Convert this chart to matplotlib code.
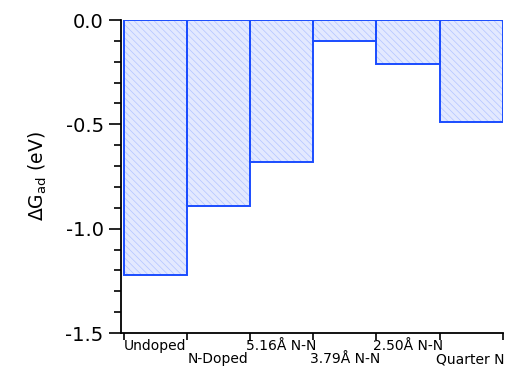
import matplotlib
matplotlib.use("Agg")
import matplotlib.pyplot as plt
import numpy as np
from matplotlib.ticker import MultipleLocator

categories = ["Undoped", "N-Doped", "5.16Å N-N", "3.79Å N-N", "2.50Å N-N", "Quarter N"]
values = [-1.22, -0.89, -0.68, -0.10, -0.21, -0.49]

plt.rcParams['hatch.linewidth'] = 0.5
fig = plt.figure(figsize=(5.05, 3.71), dpi=100)
ax = fig.add_axes([0.2396, 0.1024, 0.7564, 0.8436])

x = np.arange(len(categories)) + 0.5
edge = "#1a4cff"
ax.bar(x, values, width=1.0, color="#e3e9ff", edgecolor="#b3c4ff", hatch="\\\\\\\\\\", linewidth=0)
ax.bar(x, values, width=1.0, fill=False, edgecolor=edge, linewidth=1.4)

ax.set_ylim(-1.5, 0)
ax.set_xlim(-0.04, 6.0)
ax.yaxis.set_major_locator(MultipleLocator(0.5))
ax.yaxis.set_minor_locator(MultipleLocator(0.1))
ax.yaxis.set_major_formatter(matplotlib.ticker.FormatStrFormatter('%.1f'))
ax.tick_params(axis='y', which='major', length=9, width=1.2, labelsize=14, direction='out')
ax.tick_params(axis='y', which='minor', length=5, width=1.2)

ax.set_xticks(np.arange(0, 7))
ax.set_xticklabels([])
ax.tick_params(axis='x', which='major', length=5, width=1.2, direction='out')
for i, c in enumerate(categories):
    yoff = -0.020 if i % 2 == 0 else -0.062
    if i == len(categories) - 1:
        ax.text(6.02, yoff, c, transform=ax.get_xaxis_transform(), ha='right', va='top', fontsize=10, clip_on=False)
    else:
        ax.text(x[i], yoff, c, transform=ax.get_xaxis_transform(), ha='center', va='top', fontsize=10, clip_on=False)

for s in ['top', 'right']:
    ax.spines[s].set_visible(False)
ax.spines['left'].set_linewidth(1.3)
ax.spines['bottom'].set_linewidth(1.3)

ax.set_ylabel(r'$\Delta$G$_{\rm ad}$ (eV)', fontsize=13.5, labelpad=12)

fig.savefig("out.png", dpi=100)
